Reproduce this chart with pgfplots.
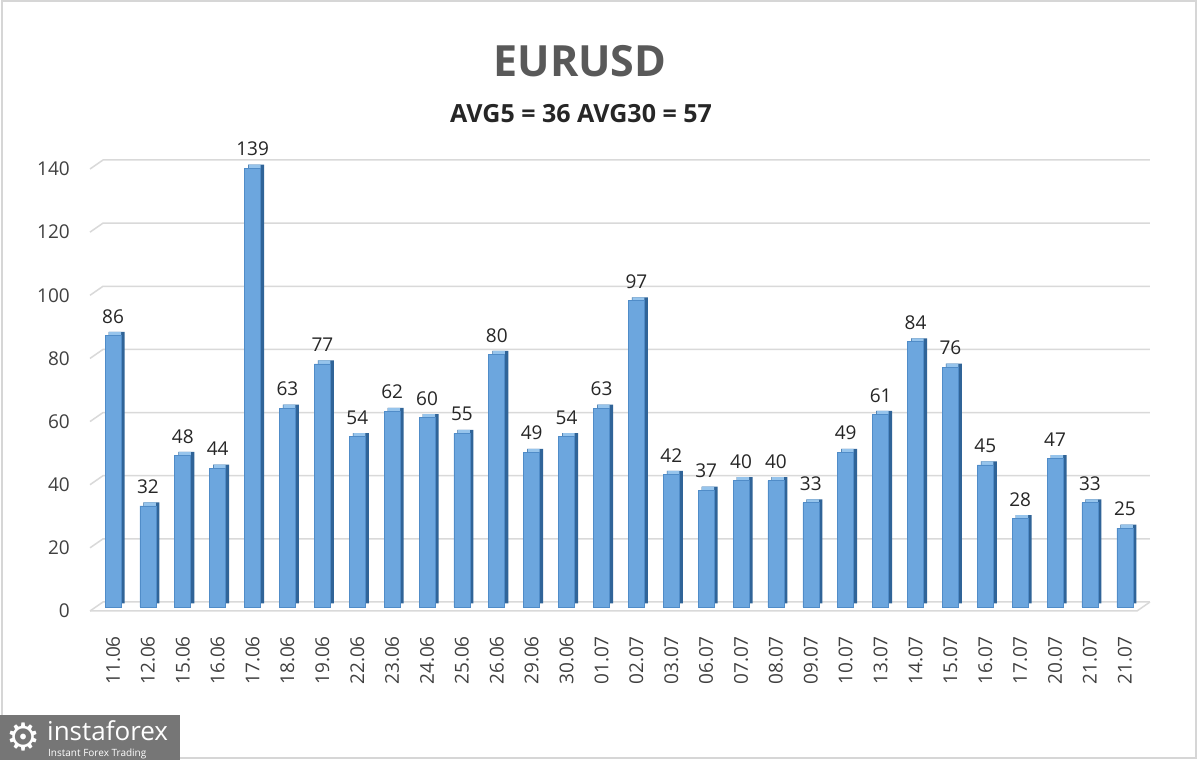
\documentclass[border=0pt]{standalone}
\usepackage{pgfplots}
\pgfplotsset{compat=1.18}
\usepackage{fontspec}
\setmainfont{Open Sans}
\newfontfamily\symfont{DejaVu Sans}
\definecolor{gridc}{RGB}{217,217,217}
\definecolor{barF}{RGB}{108,166,222}
\definecolor{barE}{RGB}{80,140,200}
\definecolor{barD}{RGB}{48,100,152}
\definecolor{barT}{RGB}{150,196,236}
\definecolor{titlec}{RGB}{89,89,89}
\definecolor{subc}{RGB}{38,38,38}
\definecolor{tickc}{RGB}{64,64,64}
\definecolor{logoc}{RGB}{118,118,118}
\definecolor{framec}{RGB}{214,214,214}
\pgfplotstableread{
x v
0 86
1 32
2 48
3 44
4 139
5 63
6 77
7 54
8 62
9 60
10 55
11 80
12 49
13 54
14 63
15 97
16 42
17 37
18 40
19 40
20 33
21 49
22 61
23 84
24 76
25 45
26 28
27 47
28 33
29 25
}\datatable
\begin{document}
\begin{tikzpicture}[x=1pt,y=1pt]
\fill[white] (0,0) rectangle (1200,760);
\draw[framec, line width=2pt] (2,2) rectangle (1196,759);
\node[font=\fontsize{43}{50}\selectfont\bfseries, text=titlec] at (580,699) {EURUSD};
\node[font=\fontsize{25}{30}\selectfont\bfseries, text=subc] at (581,646) {AVG5 = 36 AVG30 = 57};
\begin{axis}[
  at={(90pt,153pt)}, anchor=south west,
  scale only axis, width=1060pt, height=442pt,
  xmin=-0.66, xmax=29.72, ymin=0, ymax=140,
  axis line style={draw=none},
  tick style={draw=none},
  ytick={0,20,...,140},
  xtick=data,
  xticklabels={11.06,12.06,15.06,16.06,17.06,18.06,19.06,22.06,23.06,24.06,25.06,26.06,29.06,30.06,01.07,02.07,03.07,06.07,07.07,08.07,09.07,10.07,13.07,14.07,15.07,16.07,17.07,20.07,21.07,21.07},
  /pgf/number format/assume math mode=true,
  yticklabel style={font=\fontsize{19}{22}\selectfont, text=tickc, anchor=east, inner sep=0pt, xshift=-20pt, yshift=-4pt},
  xticklabel style={font=\fontsize{19}{22}\selectfont, text=tickc, rotate=90, anchor=east, inner sep=0pt, xshift=-3pt},
  xticklabel shift=26pt,
  clip=false,
  nodes near coords,
  every node near coord/.append style={font=\fontsize{19}{22}\selectfont, text=subc, yshift=5pt},
]
\pgfplotsinvokeforeach{20,40,...,140}{
  \draw[gridc, line width=1.5pt] ([yshift=-4pt]axis cs:-0.66,#1) -- ([xshift=13pt,yshift=5pt]axis cs:-0.66,#1) -- ([yshift=5pt]axis cs:29.72,#1);
}
\draw[gridc, line width=1.5pt] ([yshift=-4pt]axis cs:-0.66,0) -- ([xshift=13pt,yshift=5pt]axis cs:-0.66,0) -- ([yshift=5pt]axis cs:29.72,0);
\draw[gridc, line width=1.5pt] ([yshift=-4pt]axis cs:-0.66,0) -- ([xshift=-13pt,yshift=-4pt]axis cs:29.72,0) -- ([yshift=5pt]axis cs:29.72,0);
\addplot[ybar, bar width=16pt, bar shift=3.5pt, draw=none, fill=barD, nodes near coords=\empty, yshift=3.5pt, forget plot] table[x=x,y=v]{\datatable};
\addplot[ybar, bar width=12pt, bar shift=2pt, draw=none, fill=barT, nodes near coords=\empty, yshift=3.5pt, forget plot] table[x=x,y=v]{\datatable};
\addplot[ybar, bar width=16pt, bar shift=0pt, draw=barE, line width=0.7pt, fill=barF, point meta=explicit, every node near coord/.append style={yshift=3.5pt}] table[x=x,y=v,meta=v]{\datatable};
\end{axis}
\fill[logoc] (0,0) rectangle (180,45);
\node[text=white, font=\symfont\fontsize{38}{40}\selectfont, inner sep=0pt] at (24,23) {⚙};
\node[text=white, font=\fontsize{26}{30}\selectfont, anchor=base west, inner sep=0pt] at (47,19.5) {instaforex};
\node[text=white, font=\fontsize{10}{12}\selectfont, anchor=base west, inner sep=0pt] at (48,3.5) {Instant Forex Trading};
\end{tikzpicture}
\end{document}
